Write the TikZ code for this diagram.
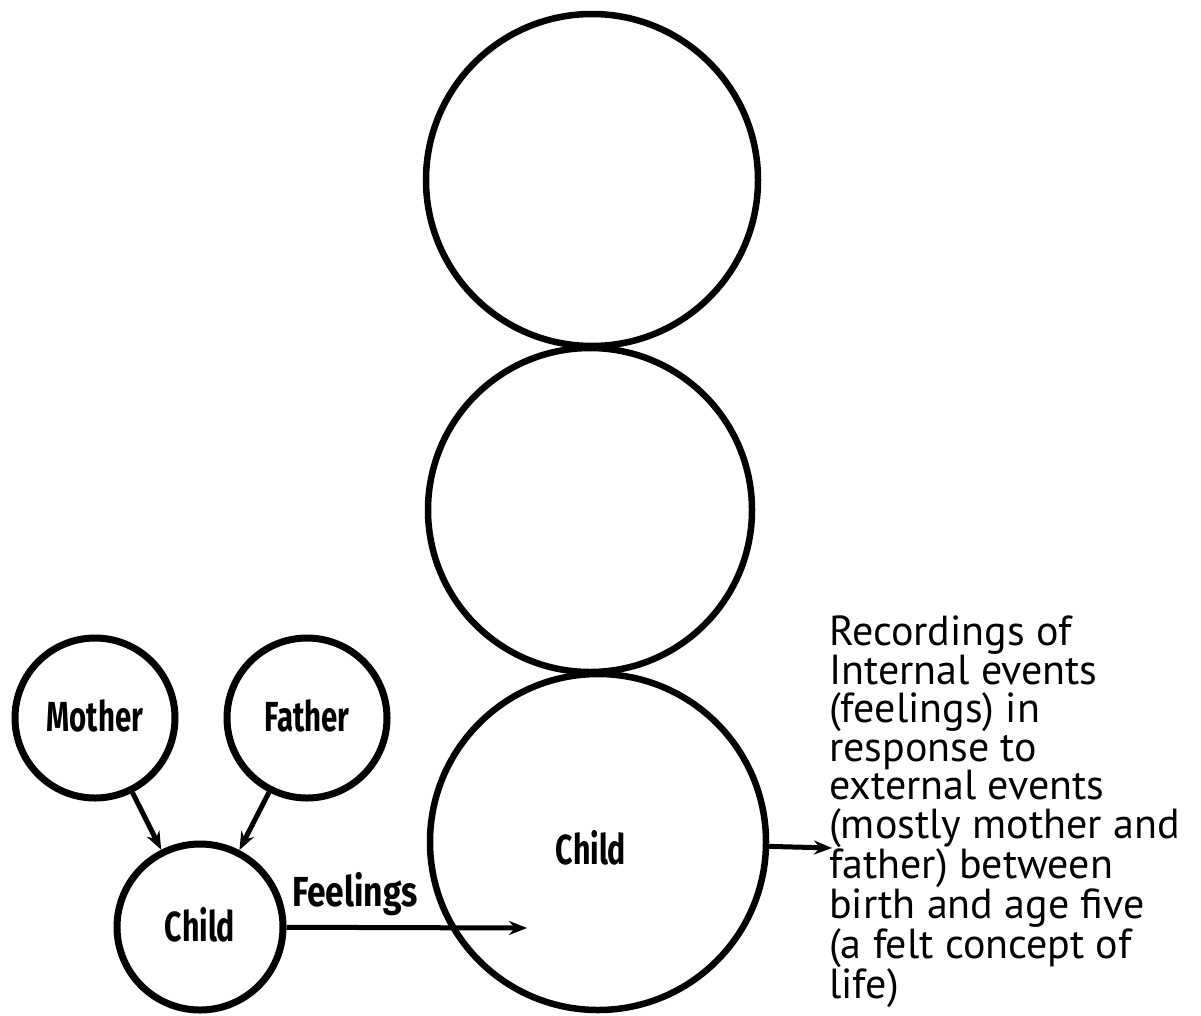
\documentclass[tikz,border=0pt]{standalone}
\usepackage{fontspec}
\setmainfont{PT Sans}
\newfontfamily\labfont{Fira Sans}
\usetikzlibrary{arrows.meta}
\begin{document}
\begin{tikzpicture}[x=1pt,y=-1pt,
  bigc/.style={circle,draw,line width=6.5pt,inner sep=0pt},
  smallc/.style={circle,draw,line width=7pt,inner sep=0pt,minimum size=160pt},
  lab/.style={font=\labfont\fontsize{42}{44}\selectfont\bfseries},
  arr/.style={line width=5pt,-{Stealth[length=18pt,width=14pt]}}]
\useasboundingbox (0,0) rectangle (1201,1015);
\fill[white] (0,0) rectangle (1201,1015);
\node[bigc,minimum size=332pt] (top) at (592,180) {};
\node[bigc,minimum size=324pt] (mid) at (590,510) {};
\node[bigc,minimum size=336pt] (bot) at (598,842) {};
\node[lab] at (591,848) {\scalebox{0.72}[1]{Child}};
\node[smallc] (mother) at (95,718) {};
\node[lab] at (95,716) {\scalebox{0.7}[1]{Mother}};
\node[smallc] (father) at (307,718) {};
\node[lab] at (307,716) {\scalebox{0.7}[1]{Father}};
\node[smallc,minimum size=166pt] (child) at (200,927) {};
\node[lab] at (200,925) {\scalebox{0.72}[1]{Child}};
\draw[arr] (mother) -- (child);
\draw[arr] (father) -- (child);
\coordinate (fe) at (527,928);
\draw[arr] (child) -- (fe);
\node[lab,anchor=south west,inner sep=0pt] (feel) at (292,916) {\scalebox{0.8}[1]{Feelings}};
\coordinate (ra) at (832,848);
\draw[arr] (bot) -- (ra);
\node[anchor=north west,align=left,inner sep=0pt,font=\fontsize{42}{38.5}\selectfont] (txt) at (829,616) {Recordings of\\Internal events\\(feelings) in\\response to\\external events\\(mostly mother and\\father) between\\birth and age five\\(a felt concept of\\life)};
\end{tikzpicture}
\end{document}
